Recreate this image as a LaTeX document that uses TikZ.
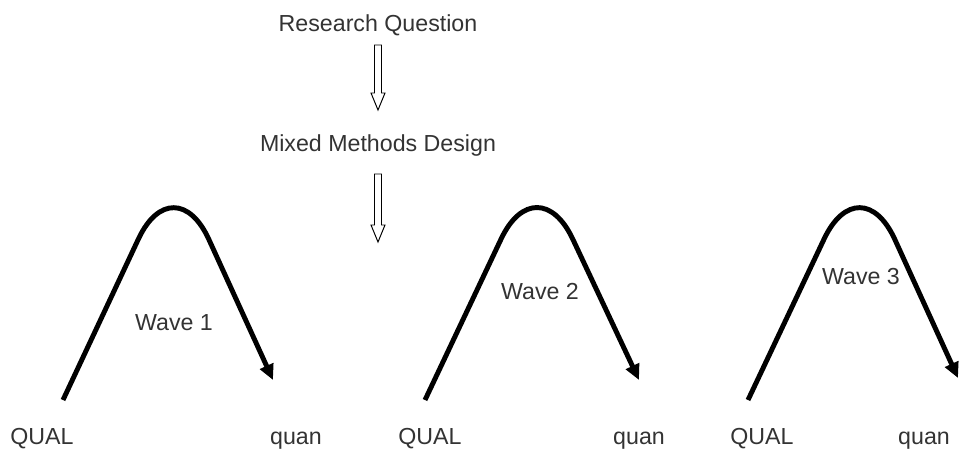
\documentclass[tikz,border=0pt]{standalone}
\usepackage{fontspec}
\setmainfont{Liberation Sans}
\usetikzlibrary{arrows.meta,positioning}

\begin{document}
\begin{tikzpicture}[
  x=0.025cm, y=-0.025cm,
  font=\fontsize{16.5}{19}\selectfont,
  lbl/.style={text=black!80, inner sep=0pt, anchor=base},
  hollow/.style={draw, line width=0.7pt, line join=miter, fill=white},
  wave/.style={line width=3.5pt, rounded corners=2.1cm,
    -{Triangle[length=11pt,width=10pt]}},
]
\path[use as bounding box] (0,0) rectangle (960,454);

\node[lbl] (rq)  at (378,31)  {Research Question};
\node[lbl] (mmd) at (378,151) {Mixed Methods Design};

% hollow block arrows under the two headings
\coordinate (a1) at (378,45);
\coordinate (a2) at (378,174);
\draw[hollow] (a1) ++(-3.5,0) -- ++(0,48) -- ++(-3.5,0) -- ++(7,17)
  -- ++(7,-17) -- ++(-3.5,0) -- ++(0,-48) -- cycle;
\draw[hollow] (a2) ++(-3.5,0) -- ++(0,51) -- ++(-3.5,0) -- ++(7,17)
  -- ++(7,-17) -- ++(-3.5,0) -- ++(0,-51) -- cycle;

% the three waves
\coordinate (w1s) at (63,400);  \coordinate (w1a) at (174,163); \coordinate (w1e) at (273,380);
\coordinate (w2s) at (425,400); \coordinate (w2a) at (537,163); \coordinate (w2e) at (639,380);
\coordinate (w3s) at (748,400); \coordinate (w3a) at (860,163); \coordinate (w3e) at (958,378);

\draw[wave] (w1s) -- (w1a) -- (w1e);
\draw[wave] (w2s) -- (w2a) -- (w2e);
\draw[wave] (w3s) -- (w3a) -- (w3e);

\node[lbl] (wv1) at (174,330) {Wave 1};
\node[lbl] (wv2) at (540,299) {Wave 2};
\node[lbl] (wv3) at (861,284) {Wave 3};

\node[lbl] (ql1) at (42,444)  {QUAL};
\node[lbl] (qn1) at (296,444) {quan};
\node[lbl] (ql2) at (430,444) {QUAL};
\node[lbl] (qn2) at (639,444) {quan};
\node[lbl] (ql3) at (762,444) {QUAL};
\node[lbl] (qn3) at (924,444) {quan};
\end{tikzpicture}
\end{document}
